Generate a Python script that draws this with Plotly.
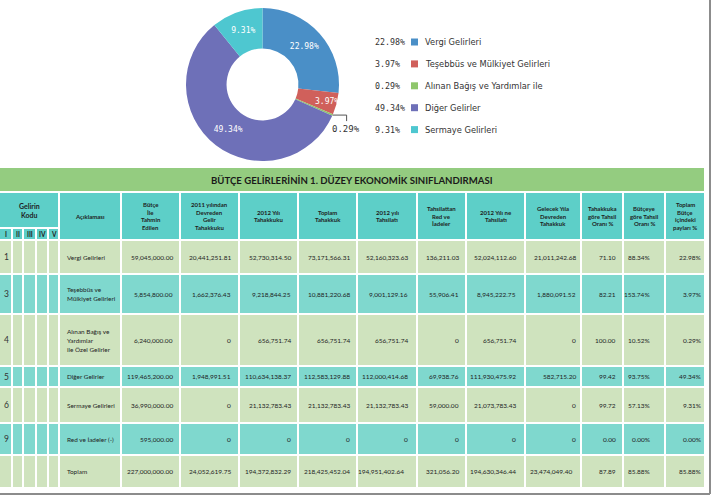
import math
import plotly.graph_objects as go

W, H = 713, 503

# ---------------- data ----------------
pie_labels = ["Vergi Gelirleri", "Teşebbüs ve Mülkiyet Gelirleri",
              "Alınan Bağış ve Yardımlar ile", "Diğer Gelirler", "Sermaye Gelirleri"]
pie_colors = ["#4a8fc7", "#d0605b", "#8fc66c", "#6e70b8", "#4ec7d0"]

table_title = "BÜTÇE GELİRLERİNİN 1. DÜZEY EKONOMİK SINIFLANDIRMASI"
code_header = ["Gelirin", "Kodu"]
code_levels = ["I", "II", "III", "IV", "V"]
col_headers = [
    ["Açıklaması"],
    ["Bütçe", "İle", "Tahmin", "Edilen"],
    ["2011 yılından", "Devreden", "Gelir", "Tahakkuku"],
    ["2012 Yılı", "Tahakkuku"],
    ["Toplam", "Tahakkuk"],
    ["2012 yılı", "Tahsilatı"],
    ["Tahsilattan", "Red ve", "İadeler"],
    ["2012 Yılı ne", "Tahsilatı"],
    ["Gelecek Yıla", "Devreden", "Tahakkuk"],
    ["Tahakkuka", "göre Tahsil", "Oranı %"],
    ["Bütçeye", "göre Tahsil", "Oranı %"],
    ["Toplam", "Bütçe", "içindeki", "payları %"],
]

codes = ["1", "3", "4", "5", "6", "9", ""]
descriptions = [
    ["Vergi Gelirleri"],
    ["Teşebbüs ve", "Mülkiyet Gelirleri"],
    ["Alınan Bağış ve", "Yardımlar", "ile Özel Gelirler"],
    ["Diğer Gelirler"],
    ["Sermaye Gelirleri"],
    ["Red ve İadeler (-)"],
    ["Toplam"],
]
butce = [59045000.00, 5854800.00, 6240000.00, 119465200.00, 36990000.00, 595000.00, 227000000.00]
devreden = [20441251.81, 1662376.43, 0, 1948991.51, 0, 0, 24052619.75]
tahakkuk_2012 = [52730314.50, 9218844.25, 656751.74, 110634138.37, 21132783.43, 0, 194372832.29]
toplam_tahakkuk = [73171566.31, 10881220.68, 656751.74, 112583129.88, 21132783.43, 0, 218425452.04]
tahsilat_2012 = [52160323.63, 9001129.16, 656751.74, 112000414.68, 21132783.43, 0, 194951402.64]
red_iade = [136211.03, 55906.41, 0, 69938.76, 59000.00, 0, 321056.20]
net_tahsilat = [52024112.60, 8945222.75, 656751.74, 111930475.92, 21073783.43, 0, 194630346.44]
gelecek = [21011242.68, 1880091.52, 0, 582715.20, 0, 0, 23474049.40]
tahakkuk_oran = [71.10, 82.21, 100.00, 99.42, 99.72, 0.00, 87.89]
butce_oran = [88.34, 153.74, 10.52, 93.75, 57.13, 0.00, 85.88]
pay = [22.98, 3.97, 0.29, 49.34, 9.31, 0.00, 85.88]

pie_values = pay[:5]


def fmt_money(v):
    return "0" if v == 0 else f"{v:,.2f}"


def fmt_rate(v):
    return f"{v:.2f}"


def fmt_pct(v):
    return f"{v:.2f}%"


# ---------------- layout geometry ----------------
PIE_X0, PIE_X1, PIE_Y0, PIE_Y1 = 186, 339, 8, 161
cx, cy = (PIE_X0 + PIE_X1) / 2, (PIE_Y0 + PIE_Y1) / 2
R = (PIE_X1 - PIE_X0) / 2

col_edges = [0, 12, 23, 36, 48, 59, 121, 180, 239, 298, 357, 417, 466, 525, 581, 623, 665, 705]
row_edges = [240, 274, 314, 366, 387, 423, 455, 488]
HEAD_TOP, HEAD_MID, HEAD_BOT = 193, 228, 239
row_colors = ["#cfe3be", "#7fd8ce"]
head_color = "#5dcfc8"
title_color = "#94cc80"

TFONT = "Lato"
txt_col = "#1e1e1e"

shapes = []
annotations = []


def rect(x0, x1, y0, y1, color):
    shapes.append(dict(type="rect", xref="x", yref="y", x0=x0, x1=x1, y0=y0, y1=y1,
                       fillcolor=color, line=dict(width=0), layer="below"))


def text(x, yc, lines, size, anchor="center", bold=False, spacing=8, color=txt_col, family=TFONT):
    n = len(lines)
    for i, ln in enumerate(lines):
        y = yc + (i - (n - 1) / 2) * spacing
        annotations.append(dict(x=x, y=y, xref="x", yref="y", text=ln, showarrow=False,
                                xanchor=anchor, yanchor="middle",
                                font=dict(family=family, size=size, color=color,
                                          weight="bold" if bold else "normal")))


# title bar
rect(0, 704, 168, 191, title_color)
text(352, 180, [table_title], 9.6, bold=True, color="#1a1a1a")

# header
rect(col_edges[0], col_edges[5] - 1, HEAD_TOP, HEAD_MID - 1, head_color)
text((col_edges[0] + col_edges[5]) / 2, (HEAD_TOP + HEAD_MID) / 2, code_header, 7, bold=True, spacing=9.5)
for i, lv in enumerate(code_levels):
    rect(col_edges[i] + (0 if i == 0 else 1), col_edges[i + 1] - 1, HEAD_MID + 1, HEAD_BOT, head_color)
    text((col_edges[i] + col_edges[i + 1]) / 2, (HEAD_MID + 1 + HEAD_BOT) / 2, [lv], 6.5, bold=True)
for j, hdr in enumerate(col_headers):
    x0, x1 = col_edges[5 + j], col_edges[6 + j]
    rect(x0 + 1, x1 - 1, HEAD_TOP, HEAD_BOT, head_color)
    text((x0 + x1) / 2, (HEAD_TOP + HEAD_BOT) / 2, hdr, 6, bold=True, spacing=7.6)

# body
num_cols = [butce, devreden, tahakkuk_2012, toplam_tahakkuk, tahsilat_2012,
            red_iade, net_tahsilat, gelecek]
pads = [5, 6, 5, 5, 7, 5, 7, 3, 5, 13, 2]
total_left = {4: -1, 6: 2, 7: 3}   # Toplam row cells written from the left edge
last = len(codes) - 1
for r in range(len(codes)):
    y0, y1 = row_edges[r] + 1, row_edges[r + 1] - 1
    yc = (y0 + y1) / 2
    color = row_colors[r % 2]
    for c in range(len(col_edges) - 1):
        x0 = col_edges[c] + (0 if c == 0 else 1)
        rect(x0, col_edges[c + 1] - 1, y0, y1, color)
    text((col_edges[0] + col_edges[1]) / 2, yc, [codes[r]], 8.5, color="#333333")
    text(col_edges[5] + 6, yc, descriptions[r], 6.4, anchor="left", spacing=9)
    vals = [fmt_money(col[r]) for col in num_cols] + [
        fmt_rate(tahakkuk_oran[r]), fmt_pct(butce_oran[r]), fmt_pct(pay[r])]
    for k, s in enumerate(vals):
        if r == last and k in total_left:
            text(col_edges[6 + k] + total_left[k], yc, [s], 6.5, anchor="left")
        else:
            text(col_edges[7 + k] - pads[k], yc, [s], 6.5, anchor="right")

# frame lines
shapes.append(dict(type="line", xref="x", yref="y", x0=710, x1=710, y0=0, y1=494,
                   line=dict(color="#8c8c8c", width=2)))
shapes.append(dict(type="line", xref="x", yref="y", x0=0, x1=710, y0=494, y1=494,
                   line=dict(color="#8c8c8c", width=2)))

# pie inside labels + outside label for the thin slice
total = sum(pie_values)
pie_text = [fmt_pct(v) if v >= 1 else "" for v in pie_values]
cum = 0
for v in pie_values:
    if v < 1:
        th = math.radians(360 * (cum + v / 2) / total)
        px, py = cx + R * math.sin(th), cy - R * math.cos(th)
        shapes.append(dict(type="path", xref="x", yref="y",
                           path=f"M{px},{py} L{px + 14},{py} L{px + 14},{py + 6}",
                           line=dict(color="#555555", width=1)))
        text(px + 13, py + 14, [fmt_pct(v)], 9, color="#333333", family="DejaVu Sans Mono")
    cum += v

# legend
LEG_Y0, LEG_DY = 42, 21.9
leg_y = [LEG_Y0 + i * LEG_DY for i in range(len(pie_labels))]
for i, (lab, v) in enumerate(zip(pie_labels, pie_values)):
    text(373, leg_y[i], [fmt_pct(v)], 8.3, anchor="left", color="#333333", family="DejaVu Sans Mono")
    text(423, leg_y[i], [lab], 8.3, anchor="left", color="#333333", family="DejaVu Sans")

fig = go.Figure()
fig.add_trace(go.Scatter(x=[414.5] * len(leg_y), y=leg_y, mode="markers",
                         marker=dict(symbol="square", size=7, color=pie_colors),
                         hoverinfo="skip", showlegend=False))
fig.add_trace(go.Pie(
    labels=pie_labels, values=pie_values, text=pie_text, textinfo="text",
    textposition="inside", insidetextorientation="horizontal",
    insidetextfont=dict(family="DejaVu Sans Mono", size=8, color="white"),
    marker=dict(colors=pie_colors, line=dict(width=0)),
    hole=0.47, sort=False, direction="clockwise", rotation=0,
    domain=dict(x=[PIE_X0 / W, PIE_X1 / W], y=[1 - PIE_Y1 / H, 1 - PIE_Y0 / H]),
    hoverinfo="label+value", showlegend=False, automargin=False,
))

fig.update_layout(
    width=W, height=H, margin=dict(l=0, r=0, t=0, b=0),
    paper_bgcolor="white", plot_bgcolor="white",
    xaxis=dict(range=[0, W], visible=False, fixedrange=True),
    yaxis=dict(range=[H, 0], visible=False, fixedrange=True),
    shapes=shapes, annotations=annotations,
    uniformtext=dict(minsize=8, mode="show"),
    showlegend=False,
)
fig.write_html("out.html", config={"displayModeBar": False},
               post_script="document.body.style.margin='0';document.body.style.overflow='hidden';")
